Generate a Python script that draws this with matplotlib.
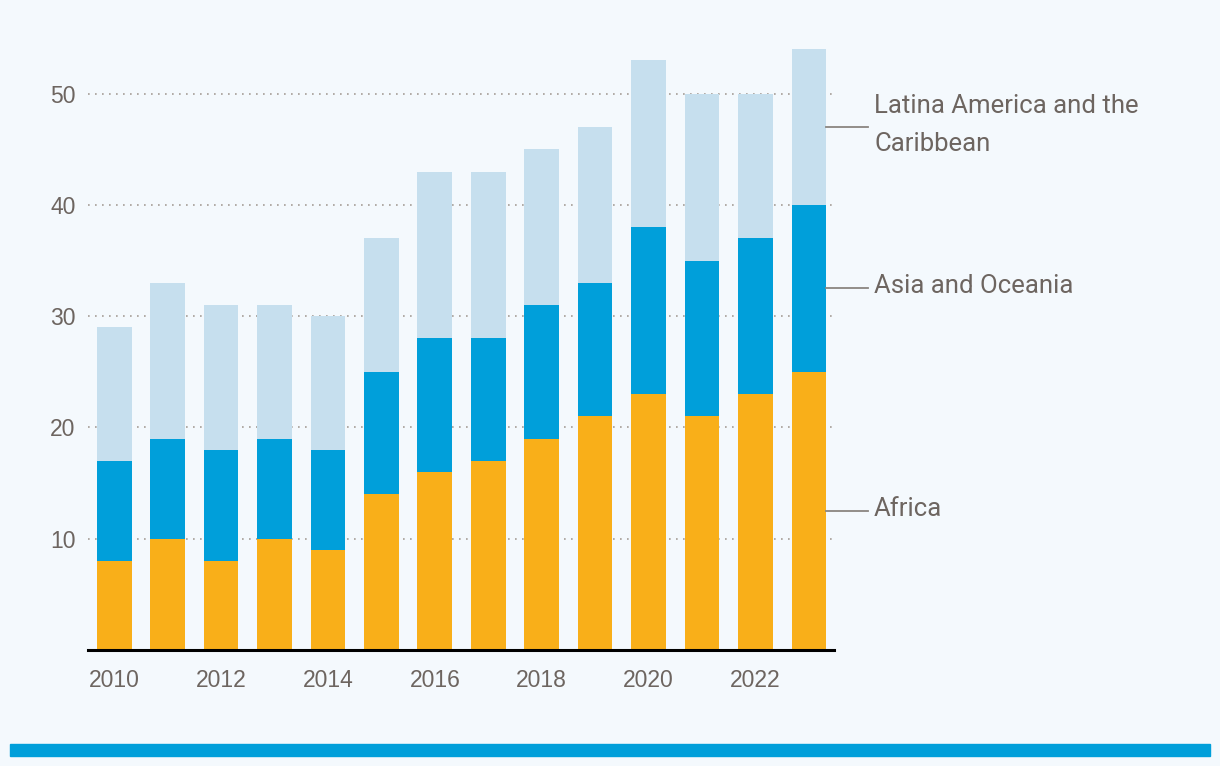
import matplotlib.pyplot as plt
from matplotlib.patches import Rectangle
import numpy as np

# data
years = list(range(2010, 2024))
africa = [8, 10, 8, 10, 9, 14, 16, 17, 19, 21, 23, 21, 23, 25]
asia = [9, 9, 10, 9, 9, 11, 12, 11, 12, 12, 15, 14, 14, 15]
latam = [12, 14, 13, 12, 12, 12, 15, 15, 14, 14, 15, 15, 13, 14]
series_labels = ["Africa", "Asia and Oceania", "Latina America and the\nCaribbean"]
yticks = [10, 20, 30, 40, 50]
xtick_years = [2010, 2012, 2014, 2016, 2018, 2020, 2022]

# colours
BG = "#f4f9fd"
ORANGE = "#f9af19"
BLUE = "#009fda"
LIGHT = "#c6dfee"
TXT = "#6d6560"
GRID = "#a59d96"

fig = plt.figure(figsize=(12.2, 7.66), dpi=100, facecolor=BG)
ax = fig.add_axes([88 / 1220, 1 - 650 / 766, (834 - 88) / 1220, 611.9 / 766])
ax.set_facecolor(BG)

x = np.arange(len(years))
w = 0.65
a = np.array(africa)
b = np.array(asia)
c = np.array(latam)
ax.bar(x, a, w, color=ORANGE, zorder=2)
ax.bar(x, b, w, bottom=a, color=BLUE, zorder=2)
ax.bar(x, c, w, bottom=a + b, color=LIGHT, zorder=2)

ax.set_xlim(-0.49, 13.47)
ax.set_ylim(0, 55)

# grid
for v in yticks:
    ax.axhline(v, color=GRID, lw=1.2, ls=(0, (1, 3.2)), zorder=1)

ax.set_yticks(yticks)
ax.set_yticklabels([str(v) for v in yticks])
ax.set_xticks([years.index(y) for y in xtick_years])
ax.set_xticklabels([str(y) for y in xtick_years])
ax.tick_params(length=0, labelsize=16.5, labelcolor=TXT)
ax.tick_params(axis="y", pad=9)
ax.tick_params(axis="x", pad=14)
for lab in ax.get_xticklabels() + ax.get_yticklabels():
    lab.set_family("Liberation Sans")

for s in ["top", "right", "left"]:
    ax.spines[s].set_visible(False)
ax.spines["bottom"].set_color("black")
ax.spines["bottom"].set_linewidth(2.2)

# direct labels at mid of last bar segments
last = len(years) - 1
mids = [a[last] / 2, a[last] + b[last] / 2, a[last] + b[last] + c[last] / 2]
for m, lab in zip(mids, series_labels):
    ax.plot([last + w / 2, 14.1], [m, m], color="#8a8580", lw=1.3,
            clip_on=False, zorder=3)
    ax.text(14.22, m + 0.2, lab, fontsize=18.5, color=TXT, va="center", ha="left",
            family="Roboto", linespacing=1.7, clip_on=False)

# bottom strip
fig.patches.append(Rectangle((10 / 1220, 1 - 756 / 766), 1200 / 1220, 12 / 766,
                             transform=fig.transFigure, color=BLUE))

fig.savefig("out.png", dpi=100, facecolor=BG)
